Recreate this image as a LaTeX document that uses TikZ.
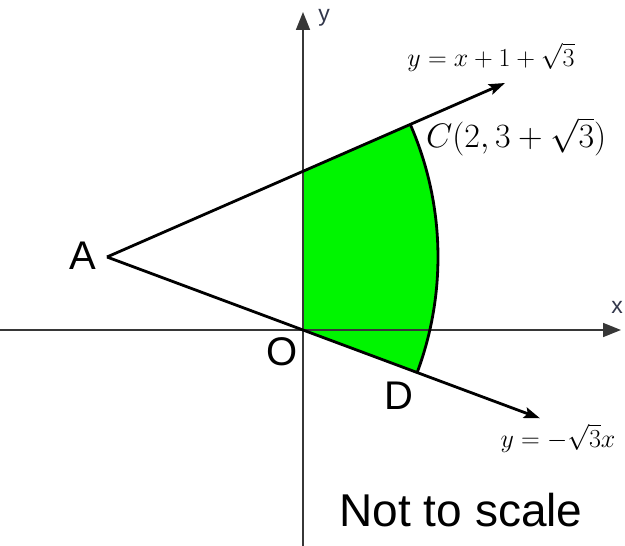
\documentclass[tikz,border=0pt]{standalone}
\usepackage{fix-cm}
\usepackage{fontspec}
\newfontfamily\sansf{Liberation Sans}
\usetikzlibrary{arrows.meta,calc}
\definecolor{axisgray}{RGB}{55,55,55}
\definecolor{labgray}{RGB}{50,55,75}
\definecolor{regiongreen}{RGB}{0,245,0}
\begin{document}
\begin{tikzpicture}[x=1pt,y=1pt,
  axis/.style={draw=axisgray,line width=1.7pt,-{Triangle[length=18pt,width=14pt]}},
  bound/.style={draw=black,line width=2.8pt},
  ray/.style={bound,-{Stealth[length=16pt,width=11pt,inset=3pt]}},
  biglab/.style={inner sep=0pt,font=\sansf\fontsize{40}{48}\selectfont},
  axlab/.style={inner sep=0pt,text=labgray,font=\sansf\fontsize{23}{27}\selectfont},
  eqlab/.style={inner sep=0pt,font=\fontsize{26}{31}\selectfont}]
\useasboundingbox (0,0) rectangle (625,546);
% key points
\coordinate (A) at (107,289);
\coordinate (O) at (303,216);
\coordinate (C) at ($(A)+(23.6:331)$);
\coordinate (D) at ($(A)+(-20.43:331)$);
\coordinate (P) at (303,374.6);
\coordinate (Ut) at (505,463);
\coordinate (Lt) at (540,127.7);
\coordinate (Xs) at (0,216);
\coordinate (Xe) at (621,216);
\coordinate (Ys) at (303,0);
\coordinate (Ye) at (303,534);
% region
\fill[regiongreen] (P) -- (C) arc[start angle=23.6,end angle=-20.43,radius=331] -- (O) -- cycle;
% axes
\draw[axis] (Xs) -- (Xe);
\draw[axis] (Ys) -- (Ye);
% rays
\draw[ray] (A) -- (Ut);
\draw[ray] (A) -- (Lt);
\draw[bound] (C) arc[start angle=23.6,end angle=-20.43,radius=331];
% labels
\node[biglab] (lA) at (83,290) {A};
\node[biglab] (lO) at (282,194) {O};
\node[biglab] (lD) at (399,150) {D};
\node[axlab] (ly) at (324,528) {y};
\node[axlab] (lx) at (617,239) {x};
\node[eqlab] (eq1) at (491,489) {$y=x+1+\sqrt{3}$};
\node[inner sep=0pt,anchor=west,font=\fontsize{34}{40}\selectfont] (lC) at (426,409) {$C(2,3+\sqrt{3})$};
\node[eqlab] (eq2) at (558,108) {$y=-\sqrt{3}x$};
\node[inner sep=0pt,font=\sansf\fontsize{46}{54}\selectfont] (nts) at (461,36) {Not to scale};
\end{tikzpicture}
\end{document}
